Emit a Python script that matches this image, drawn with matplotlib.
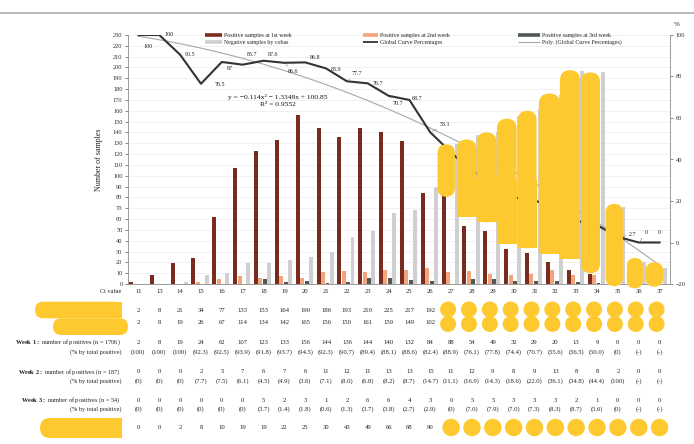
import numpy as np
import matplotlib
matplotlib.use("Agg")
import matplotlib.pyplot as plt
from matplotlib.patches import FancyBboxPatch, Rectangle, Circle
from matplotlib.lines import Line2D
from matplotlib.transforms import IdentityTransform, blended_transform_factory

# ---------------- data ----------------
ct_values = [11, 13, 14, 15, 16, 17, 18, 19, 20, 21, 22, 23, 24, 25, 26,
             27, 28, 29, 30, 31, 32, 33, 34, 35, 36, 37]
week1 = [2, 8, 19, 24, 62, 107, 123, 133, 156, 144, 136, 144, 140, 132, 84,
         88, 54, 49, 32, 29, 20, 13, 9, 0, 0, 0]
week2 = [0, 0, 0, 2, 5, 7, 6, 7, 6, 11, 12, 11, 13, 13, 15,
         11, 12, 9, 8, 9, 13, 8, 8, 2, 0, 0]
week3 = [0, 0, 0, 0, 0, 0, 5, 2, 3, 1, 2, 6, 6, 4, 3,
         0, 5, 5, 3, 3, 3, 2, 1, 0, 0, 0]
negatives = [0, 0, 2, 8, 10, 19, 19, 22, 25, 30, 43, 49, 66, 68, 90,
             129, 138, 140, 155, 162, 175, 197, 196, 71, 20, 15]
week_n = [1706, 187, 54]
poly_coef = [-0.114, -1.3348, 100.85]   # trendline as printed on the chart
r_squared = 0.9552

# ---------------- style ----------------
plt.rcParams['font.family'] = ['Liberation Serif', 'DejaVu Serif']
plt.rcParams['mathtext.fontset'] = 'custom'
plt.rcParams['mathtext.rm'] = 'Liberation Serif'
plt.rcParams['mathtext.bf'] = 'Liberation Serif:bold'

BROWN = '#7a2b1e'
ORANGE = '#f2a47a'
DKGRAY = '#505858'
LTGRAY = '#cfcfcf'
LINE = '#333333'
POLY = '#a8a8a8'
YELLOW = '#fdc92f'
TXT = '#222222'

W, H = 694, 444
L, R, T, B = 128, 670, 35, 284

fig = plt.figure(figsize=(W / 100, H / 100), dpi=100)
ax = fig.add_axes([L / W, 1 - B / H, (R - L) / W, (B - T) / H])
n = len(ct_values)
x = np.arange(n)
ax.set_xlim(-0.5, n - 0.5)
ax.set_ylim(0, 230)

w1 = np.array(week1); w2 = np.array(week2); w3 = np.array(week3)
neg = np.array(negatives)
positives = w1 + w2 + w3
totals = positives + neg
pct = np.round(positives / totals * 100, 1)

bw = 0.19
ax.bar(x - 0.36, w1, bw, color=BROWN, zorder=3)
ax.bar(x - 0.15, w2, bw, color=ORANGE, zorder=3)
ax.bar(x + 0.07, w3, bw, color=DKGRAY, zorder=3)
ax.bar(x + 0.27, neg, bw, color=LTGRAY, zorder=3)

ax.set_yticks(range(0, 231, 10))
ax.yaxis.grid(True, color='#ececec', lw=0.5)
ax.set_axisbelow(True)
ax.set_xticks([])
ax.tick_params(axis='y', labelsize=4.6, length=2, width=0.5, colors='#555555',
               labelcolor='#333333', pad=2)
for s in ['top', 'right']:
    ax.spines[s].set_visible(False)
for s in ['left', 'bottom']:
    ax.spines[s].set_color('#999999')
    ax.spines[s].set_linewidth(0.7)
ax.set_ylabel("Number of samples", fontsize=5.8, color=TXT)
ax.yaxis.set_label_coords(-0.046, 0.5)

ax2 = ax.twinx()
ax2.set_ylim(-20, 100)
ax2.set_yticks(range(-20, 101, 20))
ax2.tick_params(axis='y', labelsize=4.6, length=2, width=0.5, colors='#555555',
                labelcolor='#333333', pad=2)
for s in ['top', 'left', 'bottom']:
    ax2.spines[s].set_visible(False)
ax2.spines['right'].set_color('#999999')
ax2.spines['right'].set_linewidth(0.7)

idx = np.arange(1, n + 1)
ax2.plot(x, np.polyval(poly_coef, idx), color=POLY, lw=0.8, zorder=4)
ax2.plot(x, pct, color=LINE, lw=1.5, zorder=5)

# data labels on the percentage curve (dx, dy in pixels, leader flag)
label_offsets = {0: (10, -12, 0), 1: (10, 0, 0), 2: (10, 0, 0), 3: (19, -1, 0),
                 4: (8, -7, 1), 5: (9, 10, 0), 6: (9, 6, 0), 7: (9, -9, 1),
                 8: (10, 4.5, 0), 9: (10, -1, 0), 10: (10, 8, 1), 11: (10, 0, 0),
                 12: (9, -8, 1), 13: (8, 1, 0), 14: (15, 8, 1), 23: (15, 2, 1),
                 24: (8, 10, 1), 25: (0, 10, 0)}
for i, (dx, dy, lead) in label_offsets.items():
    txt = f"{pct[i]:g}"
    kw = {}
    if lead:
        kw['arrowprops'] = dict(arrowstyle='-', color='#777777', lw=0.4,
                                shrinkA=0.5, shrinkB=1.5)
    ax2.annotate(txt, (x[i], pct[i]), xytext=(dx, dy), textcoords='offset pixels',
                 ha='center', va='center', fontsize=4.3, color=TXT, zorder=6, **kw)

a, b, c = poly_coef
equation_text = (f"y = {'−' if a < 0 else ''}{abs(a):g}x\u00b2 {'−' if b < 0 else '+'} "
                 f"{abs(b):g}x {'−' if c < 0 else '+'} {abs(c):g}")
ax2.text((278 - L) / (R - L), 1 - (97 - T) / (B - T), equation_text,
         transform=ax2.transAxes, ha='center', va='center', fontsize=5.4, color='#111111')
ax2.text((278 - L) / (R - L), 1 - (105 - T) / (B - T), f"R\u00b2 = {r_squared:g}",
         transform=ax2.transAxes, ha='center', va='center', fontsize=5.4, color='#111111')

fig.text(677 / W, 1 - 25 / H, "%", fontsize=5, color=TXT, ha='center', va='center')

# top rule
fig.add_artist(Line2D([0, 1], [1 - 13.5 / H] * 2, transform=fig.transFigure,
                      color='#b4b4b4', lw=1.3))

# ---------------- legend (manual) ----------------
leg = [
    (205, 222, 35.5, 'bar', BROWN, "Positive samples at 1st week"),
    (205, 222, 42.5, 'bar', LTGRAY, "Negative samples by cobas"),
    (363, 378, 35.5, 'bar', ORANGE, "Positive samples at 2nd week"),
    (363, 378, 42.5, 'line', LINE, "Global Curve Percentages"),
    (518, 540, 35.5, 'bar', DKGRAY, "Positive samples at 3rd week"),
    (518, 540, 42.5, 'thin', POLY, "Poly. (Global Curve Percentages)"),
]
for x0, x1, yy, kind, col, lab in leg:
    lw = {'bar': 2.6, 'line': 1.3, 'thin': 0.8}[kind]
    fig.add_artist(Line2D([x0 / W, x1 / W], [1 - yy / H] * 2, transform=fig.transFigure,
                          color=col, lw=lw, solid_capstyle='butt'))
    fig.text((x1 + 2) / W, 1 - yy / H, lab, fontsize=4.2, color=TXT, va='center', ha='left')

# ---------------- table ----------------
tr = blended_transform_factory(ax.transData, fig.transFigure)


def fmt_pct(num, den):
    if den == 0:
        return "(-)"
    v = num / den * 100
    if abs(v - 100) < 1e-9:
        return "(100)"
    if v == 0:
        return "(0)"
    return f"({v:.1f})"


rows = [
    (291.7, "Ct value", [str(c) for c in ct_values]),
    (311, "Samples (n = %d)" % totals.sum(), [str(v) for v in totals]),
    (322.7, "Positives (n = %d)" % positives.sum(), [str(v) for v in positives]),
    (342.3, r"$\mathbf{Week\ 1:}$ number of positives (n = %d)" % week_n[0], [str(v) for v in w1]),
    (352.3, "(% by total positive)", [fmt_pct(a, b) for a, b in zip(w1, positives)]),
    (371.7, r"$\mathbf{Week\ 2:}$ number of positives (n = %d)" % week_n[1], [str(v) for v in w2]),
    (381, "(% by total positive)", [fmt_pct(a, b) for a, b in zip(w2, positives)]),
    (400, r"$\mathbf{Week\ 3:}$ number of positives (n = %d)" % week_n[2], [str(v) for v in w3]),
    (409, "(% by total positive)", [fmt_pct(a, b) for a, b in zip(w3, positives)]),
    (427.7, "Negatives (%)", [str(v) for v in neg]),
]
for yy, lab, vals in rows:
    fig.text(121 / W, 1 - yy / H, lab, fontsize=4.5, color=TXT, ha='right', va='center')
    for i, v in enumerate(vals):
        ax.text(x[i], 1 - yy / H, v, transform=tr, fontsize=4.8, color=TXT,
                ha='center', va='center', clip_on=False)

# ---------------- redaction blobs ----------------
blob_idx = [15, 16, 17, 18, 19, 20, 21, 22, 23, 24, 25]
blob_left = [-0.65, -0.73, -0.76, -0.80, -0.80, -0.79, -0.78, -0.77, -0.59, -0.57, -0.67]
blob_right = [0.18, 0.22, 0.18, 0.14, 0.10, 0.22, 0.18, 0.14, 0.24, 0.20, 0.17]
blob_bottom = [80.6, 62, 57, 37, 33, 28, 23, 10, -2, -4, -2.5]
blob_top = [129, 133.5, 140, 152.7, 160, 176, 197.5, 195.4, 74, 24, 20]
blob_flat = [0, 1, 1, 1, 1, 1, 1, 0, 0, 0, 0]

fig.canvas.draw()


def pill(x0, y0, x1, y1, flat_bottom=False, flat_right=False):
    w, h = x1 - x0, y1 - y0
    r = min(w, h) / 2
    fig.add_artist(FancyBboxPatch((x0, y0), w, h, boxstyle=f"round,pad=0,rounding_size={r}",
                                  transform=IdentityTransform(), fc=YELLOW, ec='none', zorder=50))
    if flat_bottom:
        fig.add_artist(Rectangle((x0, y0), w, h / 2, transform=IdentityTransform(),
                                 fc=YELLOW, ec='none', zorder=50))
    if flat_right:
        fig.add_artist(Rectangle((x0 + w / 2, y0), w / 2, h, transform=IdentityTransform(),
                                 fc=YELLOW, ec='none', zorder=50))


for i, lo, hi, yb, yt, fl in zip(blob_idx, blob_left, blob_right, blob_bottom, blob_top, blob_flat):
    (px0, py0), (px1, py1) = ax.transData.transform([[i + lo, yb], [i + hi, yt]])
    pill(px0, py0, px1, py1, flat_bottom=bool(fl))

for i in blob_idx:
    cx = ax.transData.transform([[i, 0]])[0][0]
    for yy in (309.5, 324):
        fig.add_artist(Circle((cx - 3, H - yy), 8, transform=IdentityTransform(),
                              fc=YELLOW, ec='none', zorder=50))
    fig.add_artist(Circle((cx, H - 427.5), 8.7, transform=IdentityTransform(),
                          fc=YELLOW, ec='none', zorder=50))

pill(35, H - 318.3, 121.7, H - 301.7, flat_right=True)
pill(53, H - 335, 128, H - 318.3)
pill(40, H - 438, 121.7, H - 418, flat_right=True)

fig.savefig("out.png", dpi=100)
